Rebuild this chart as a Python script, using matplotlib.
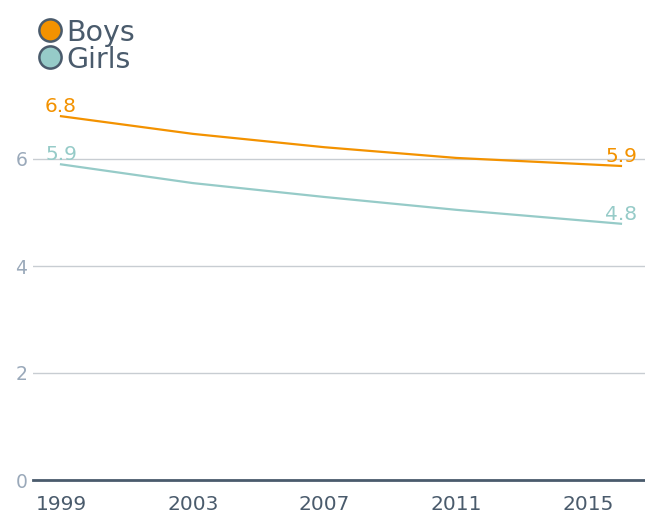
import matplotlib
matplotlib.use("Agg")
import matplotlib.pyplot as plt
from matplotlib.lines import Line2D

years = [1999, 2003, 2007, 2011, 2016]
boys = [6.8, 6.47, 6.22, 6.02, 5.87]
girls = [5.9, 5.55, 5.29, 5.05, 4.79]
xticks = [1999, 2003, 2007, 2011, 2015]
yticks = [0, 2, 4, 6]
series_names = ["Boys", "Girls"]

ORANGE = "#F39200"
TEAL = "#96CBC8"
DARK = "#4A5B6C"
LIGHT = "#9AA9BA"
GRID = "#C8CDD2"

fig = plt.figure(figsize=(6.45, 5.16), dpi=100)
ax = fig.add_axes([33/645, 1 - 480/516, 1 - 33/645, (480 - 78.75)/516])

ax.plot(years, boys, color=ORANGE, lw=1.6, zorder=3)
ax.plot(years, girls, color=TEAL, lw=1.6, zorder=3)

for vals, col in ((boys, ORANGE), (girls, TEAL)):
    for i in (0, -1):
        ax.annotate(f"{vals[i]:.1f}", (years[i], vals[i]), xytext=(0, 0),
                    textcoords="offset points", ha="center", va="bottom",
                    color=col, fontsize=14.5, zorder=4)

ax.set_xlim(1998.15, 2016.73)
ax.set_ylim(0, 7.5)
ax.set_xticks(xticks)
ax.set_xticklabels([str(x) for x in xticks])
ax.set_yticks(yticks)
ax.yaxis.grid(True, color=GRID, lw=1)
ax.set_axisbelow(True)
for s in ("top", "right", "left"):
    ax.spines[s].set_visible(False)
ax.spines["bottom"].set_color(DARK)
ax.spines["bottom"].set_linewidth(2)
ax.tick_params(axis="x", length=0, pad=11, labelsize=14.5, labelcolor=DARK)
ax.tick_params(axis="y", length=0, pad=4, labelsize=13.5, labelcolor=LIGHT)

for (name, col), ypx in zip(zip(series_names, (ORANGE, TEAL)), (30, 57)):
    yf = 1 - ypx / 516
    fig.add_artist(Line2D([50/645], [yf], transform=fig.transFigure, ls="none",
                          marker="o", markersize=16, markerfacecolor=col,
                          markeredgecolor=DARK, markeredgewidth=1.8))
    fig.text(66/645, yf, name, transform=fig.transFigure, ha="left",
             va="center_baseline", fontsize=20.5, color=DARK)

fig.savefig("out.png", dpi=100)
